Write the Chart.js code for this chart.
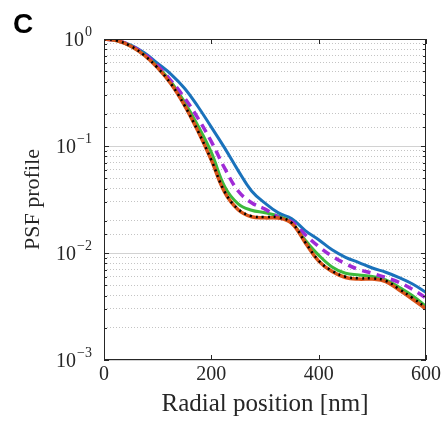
<!DOCTYPE html>
<html><head><meta charset="utf-8">
<script src="https://cdn.jsdelivr.net/npm/chart.js@4.4.1/dist/chart.umd.min.js"></script>
<style>html,body{margin:0;padding:0;background:#fff}canvas{display:block}</style>
</head><body>
<canvas id="c" width="448" height="429"></canvas>
<script>
const radialPositions = [0,25,50,75,100,125,150,175,200,225,250,275,300,325,350,375,400,425,450,475,500,525,550,575,600];
const psfBlack   = [1,0.962,0.857,0.705,0.537,0.380,0.240,0.138,0.0741,0.0372,0.0257,0.0221,0.0217,0.0215,0.0191,0.0126,0.0085,0.0068,0.0060,0.0058,0.0058,0.0055,0.0046,0.0038,0.0031];
const psfOrange  = [1,0.962,0.857,0.705,0.537,0.380,0.240,0.138,0.0738,0.0368,0.0254,0.0218,0.0213,0.0212,0.0189,0.0125,0.0084,0.0067,0.0059,0.0057,0.0057,0.0054,0.0045,0.0037,0.0030];
const psfGreen   = [1,0.962,0.859,0.711,0.550,0.398,0.257,0.155,0.0871,0.0417,0.0288,0.0251,0.0238,0.0221,0.0191,0.0132,0.00955,0.00741,0.00646,0.00624,0.00603,0.00562,0.00479,0.00398,0.00316];
const psfMagenta = [1,0.964,0.865,0.724,0.562,0.407,0.282,0.182,0.110,0.0617,0.0380,0.0295,0.0257,0.0216,0.0195,0.0148,0.0115,0.00933,0.00794,0.00700,0.00646,0.00589,0.00531,0.00457,0.00380];
const psfBlue    = [1,0.968,0.877,0.745,0.592,0.468,0.347,0.234,0.150,0.0955,0.0589,0.0380,0.0292,0.0237,0.0209,0.0162,0.0133,0.0107,0.00912,0.00813,0.00724,0.00661,0.00589,0.00513,0.00427];
const xTickValues = [0,200,400,600];
const yTickValues = [1,0.1,0.01,0.001];
const yTickExponents = ['0','\u22121','\u22122','\u22123'];
const panelLabel = 'C';
const xTitle = 'Radial position [nm]';
const yTitle = 'PSF profile';

const pts = arr => radialPositions.map((r,i)=>({x:r,y:arr[i]}));
const SERIF = '"Liberation Serif", "DejaVu Serif", serif';
const INK = '#262626';

const decor = {
  id:'decor',
  beforeDatasetsDraw(chart){
    const {ctx, chartArea:a, scales:{y}} = chart;
    ctx.save();
    ctx.strokeStyle='#d2d2d2'; ctx.lineWidth=1;
    for (const v of yTickValues){
      const py = Math.round(y.getPixelForValue(v))+0.5;
      ctx.beginPath(); ctx.moveTo(a.left,py); ctx.lineTo(a.right,py); ctx.stroke();
    }
    ctx.restore();
  },
  afterDraw(chart){
    const {ctx, chartArea:a, scales:{x,y}} = chart;
    ctx.save();
    ctx.strokeStyle=INK; ctx.lineWidth=1;
    for (const t of y.ticks){
      const py = Math.round(y.getPixelForValue(t.value))+0.5;
      const major = yTickValues.some(v=>Math.abs(Math.log10(v)-Math.log10(t.value))<1e-6);
      const len = major?5:3;
      ctx.beginPath();
      ctx.moveTo(a.left,py); ctx.lineTo(a.left+len,py);
      ctx.moveTo(a.right,py); ctx.lineTo(a.right-len,py);
      ctx.stroke();
    }
    for (const v of xTickValues){
      const px = Math.round(x.getPixelForValue(v))+0.5;
      ctx.beginPath();
      ctx.moveTo(px,a.bottom); ctx.lineTo(px,a.bottom-5);
      ctx.moveTo(px,a.top); ctx.lineTo(px,a.top+5);
      ctx.stroke();
    }
    ctx.strokeRect(Math.round(a.left)+0.5, Math.round(a.top)+0.5, Math.round(a.right-a.left)-1, Math.round(a.bottom-a.top)-1);
    ctx.fillStyle=INK;
    ctx.textBaseline='alphabetic';
    const right = a.left-12;
    yTickValues.forEach((v,i)=>{
      const py = y.getPixelForValue(v);
      ctx.font = '14px '+SERIF;
      const ew = ctx.measureText(yTickExponents[i]).width;
      ctx.textAlign='left';
      ctx.fillText(yTickExponents[i], right-ew, py-3);
      ctx.font = '20px '+SERIF;
      ctx.textAlign='right';
      ctx.fillText('10', right-ew-1, py+7);
    });
    ctx.font = 'bold 28px "Liberation Sans", Arial, sans-serif';
    ctx.textAlign='left';
    ctx.fillStyle='#000';
    ctx.fillText(panelLabel, 13, 33);
    ctx.restore();
  }
};

new Chart(document.getElementById('c'), {
  type:'line',
  data:{
    datasets:[
      {label:'black', data:pts(psfBlack), borderColor:'#000000', borderWidth:2.5, borderDash:[2,4]},
      {label:'orange', data:pts(psfOrange), borderColor:'#D95319', borderWidth:3.5},
      {label:'magenta', data:pts(psfMagenta), borderColor:'#A02BD6', borderWidth:3.5, borderDash:[9,6]},
      {label:'green', data:pts(psfGreen), borderColor:'#3CB93C', borderWidth:3},
      {label:'blue', data:pts(psfBlue), borderColor:'#1A72BB', borderWidth:3}
    ]
  },
  options:{
    responsive:false, animation:false, devicePixelRatio:1,
    layout:{padding:{left:0,top:39,right:22,bottom:0}},
    elements:{point:{radius:0}, line:{tension:0.4, fill:false, borderCapStyle:'butt'}},
    plugins:{legend:{display:false}, tooltip:{enabled:false}},
    scales:{
      x:{
        type:'linear', min:0, max:600,
        afterFit(s){ s.height = 69; },
        afterBuildTicks(s){ s.ticks = xTickValues.map(v=>({value:v})); },
        grid:{display:false, drawTicks:false},
        border:{display:false},
        ticks:{font:{family:SERIF,size:20}, color:INK, padding:3, maxRotation:0, autoSkip:false, callback:v=>String(v)},
        title:{display:true, text:xTitle, font:{family:SERIF,size:25}, color:INK, padding:{top:0,bottom:10}}
      },
      y:{
        type:'logarithmic', min:0.001, max:1,
        afterFit(s){ s.width = 104; },
        grid:{color:(c)=>{const v=c.tick&&c.tick.value; if(v===undefined) return 'rgba(0,0,0,0)'; const l=Math.log10(v); return Math.abs(l-Math.round(l))<1e-6?'rgba(0,0,0,0)':'#c4c4c4';}, drawTicks:false, lineWidth:1},
        border:{display:false, dash:[1,2]},
        ticks:{display:false},
        title:{display:true, text:yTitle, font:{family:SERIF,size:22}, color:INK, padding:{top:20,bottom:0}}
      }
    }
  },
  plugins:[decor]
});
</script>
</body></html>
